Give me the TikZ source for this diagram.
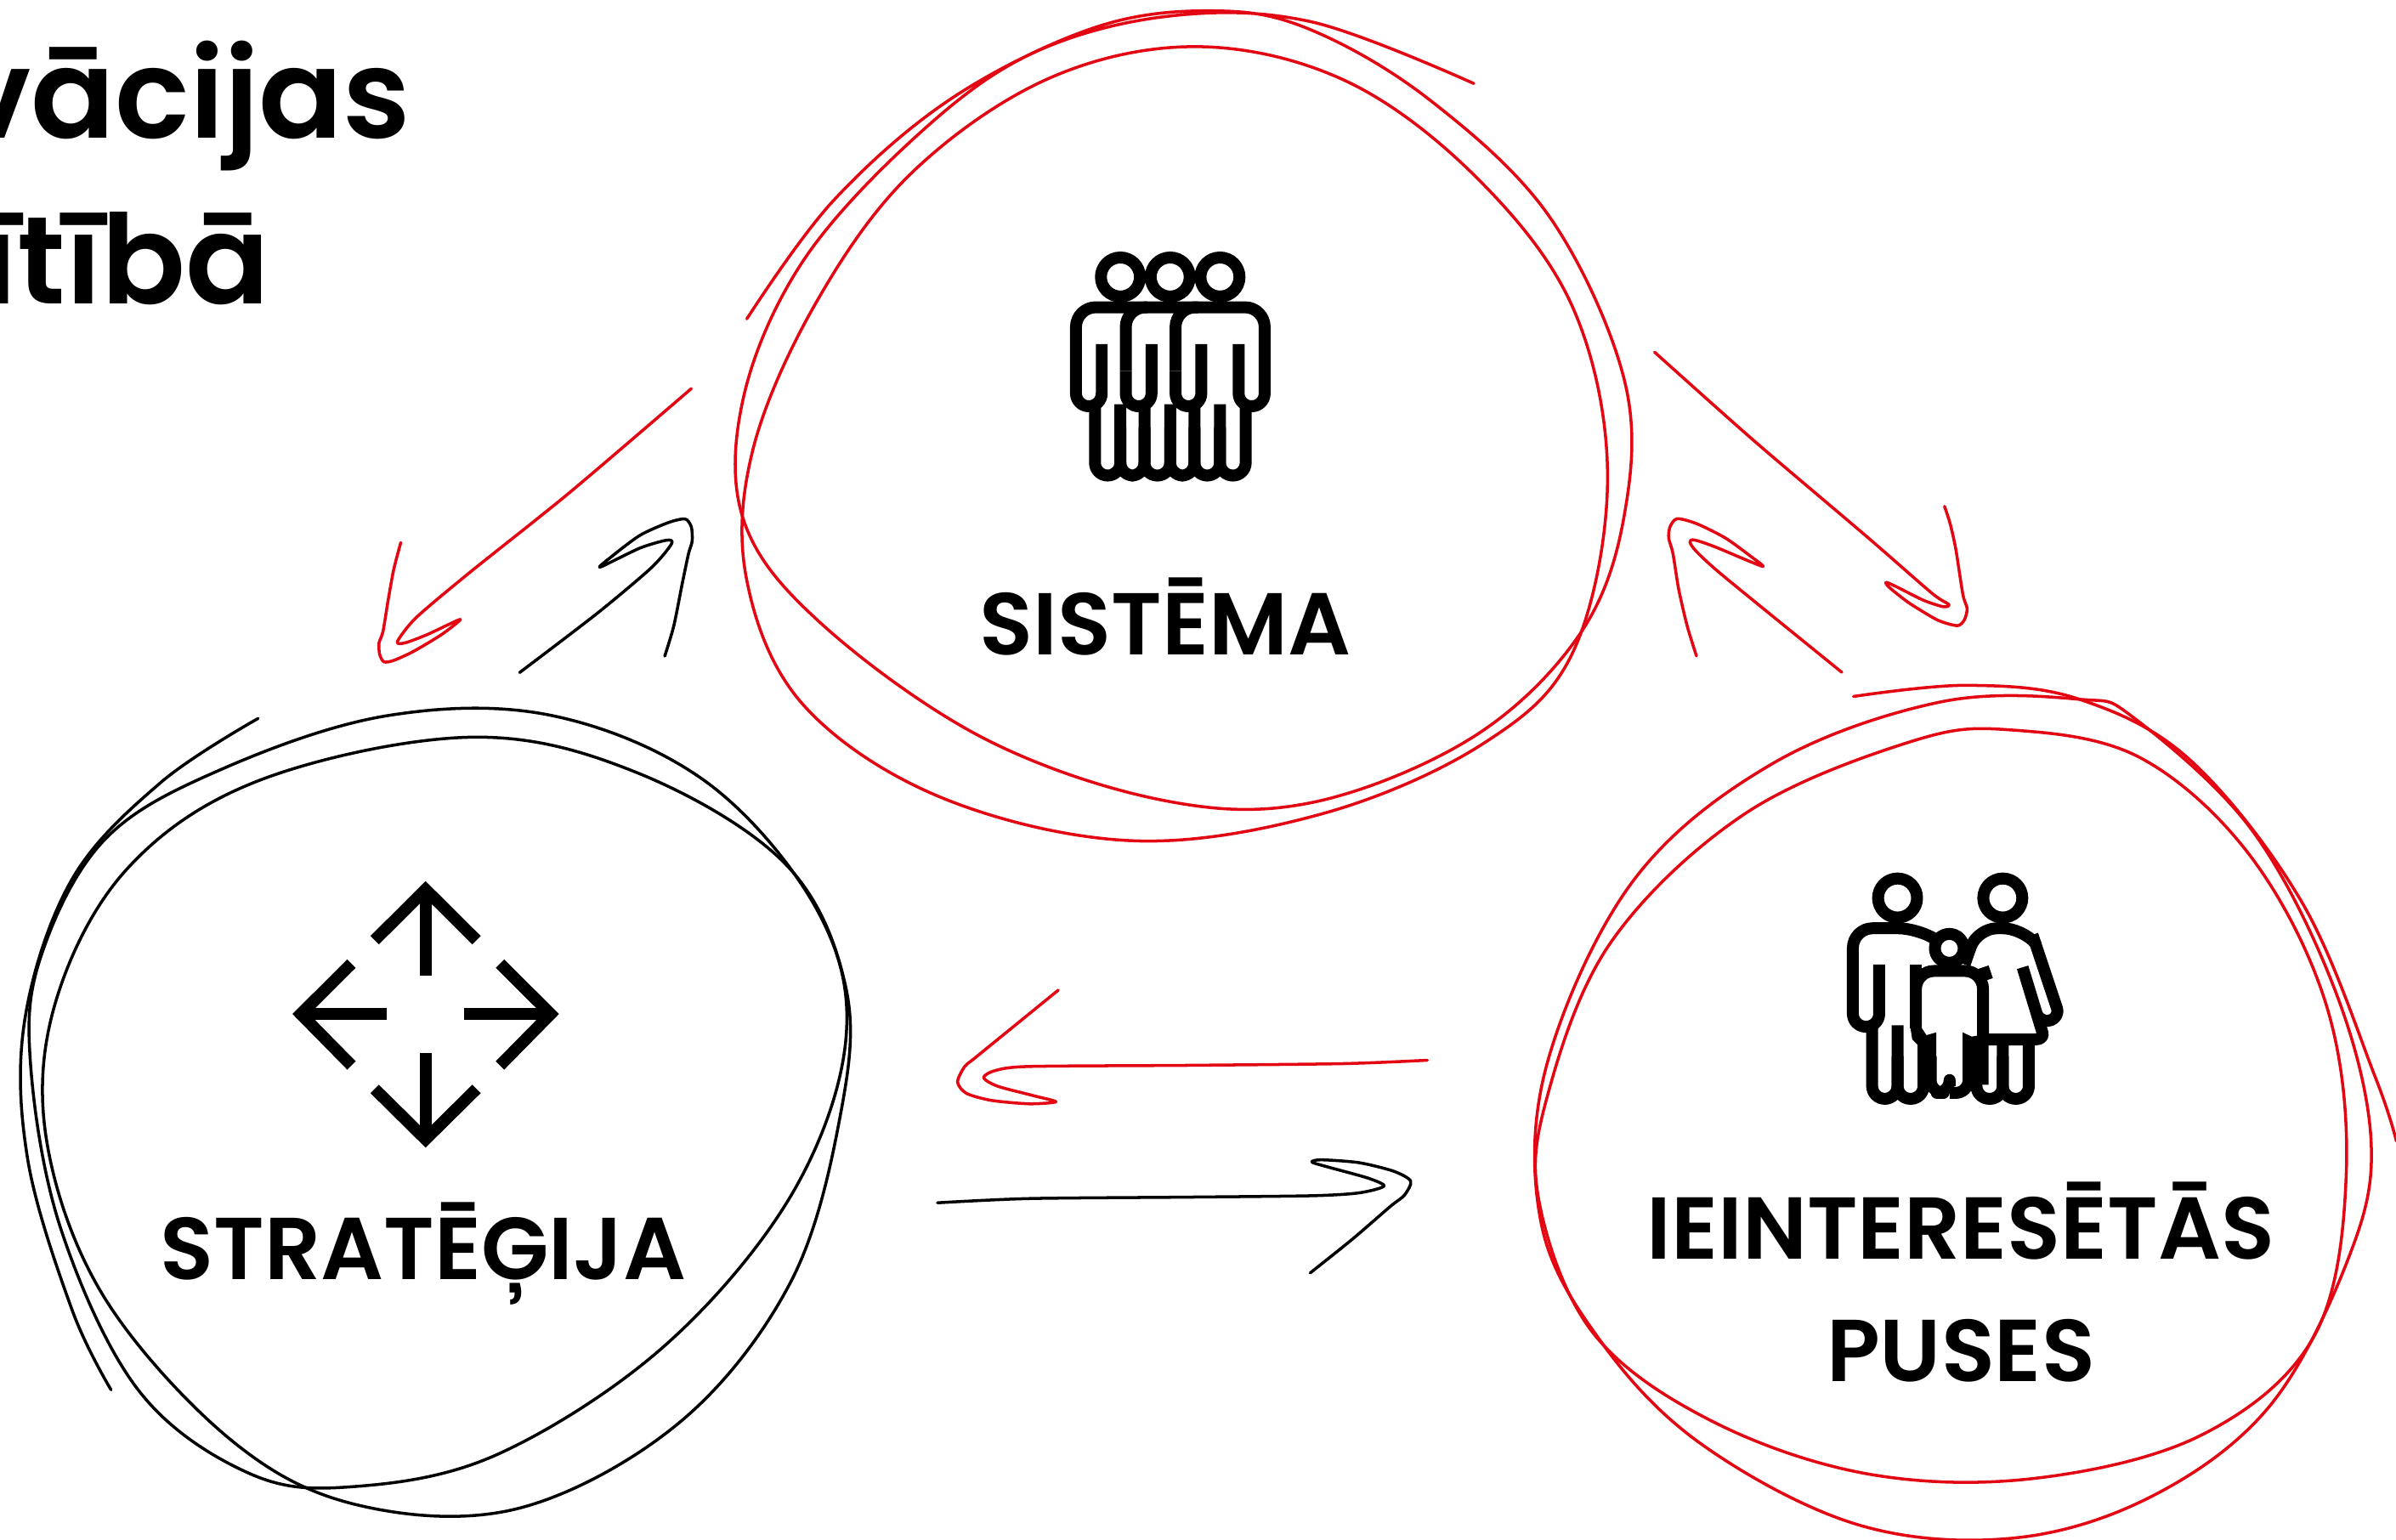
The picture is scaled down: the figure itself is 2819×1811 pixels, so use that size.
\documentclass[tikz,border=0pt]{standalone}
\usepackage{fontspec}
\setmainfont{Poppins}[UprightFont=* SemiBold]
\definecolor{sred}{HTML}{E30613}
\tikzset{
  redstroke/.style={draw=sred,line width=1pt,line cap=round,line join=round},
  blackstroke/.style={draw=black,line width=1pt,line cap=round,line join=round},
  icon/.style={draw=black,line width=3.98pt,line cap=butt,line join=round},
  labeltext/.style={anchor=base,inner sep=0pt,font=\fontsize{29.4pt}{29.4pt}\selectfont},
  titletext/.style={anchor=base east,inner sep=0pt,font=\fontsize{41.5pt}{41.5pt}\selectfont},
  zoomA/.style={shift={(840,0)},x=0.007015cm,y=-0.006378cm},
  zoomB/.style={shift={(0,820)},x=0.006506cm,y=-0.006321cm},
  zoomC/.style={shift={(1790,780)},x=0.006562cm,y=-0.006575cm},
  zoomD/.style={x=0.003333cm,y=-0.003333cm},
  zoomF/.style={shift={(1100,1130)},x=0.0037cm,y=-0.003333cm}
}
\begin{document}
\begin{tikzpicture}[x=0.01cm,y=-0.01cm]
\useasboundingbox (0,0) rectangle (2819,1811);
\fill[white] (0,0) rectangle (2819,1811);

% title
\node[titletext] (t1) at (484,162) {vācijas};
\node[titletext] (t2) at (318,357) {ītībā};

% labels
\node[labeltext] (sis) at (1371,770) {SISTĒMA};
\node[labeltext] (str) at (498,1505) {STRATĒĢIJA};
\node[labeltext] (iei) at (2307,1481) {IEINTERESĒTĀS};
\node[labeltext] (pus) at (2307,1625) {PUSES};

% SISTEMA circle
\begin{scope}[zoomA]
\draw[redstroke] plot[smooth,tension=.6] coordinates {(55,588)(200,370)(400,180)(640,50)(840,20)(1000,55)(1200,185)(1400,400)(1525,700)(1525,950)(1450,1170)(1270,1360)(1000,1480)(750,1475)(450,1360)(180,1150)(50,960)(50,730)(150,480)(340,250)(530,100)(760,30)(1000,40)(1273,154)};
\draw[redstroke] plot[smooth cycle,tension=.6] coordinates {(1497,880)(1440,570)(1280,330)(1060,150)(810,86)(560,145)(330,320)(170,560)(65,830)(55,1070)(150,1300)(380,1470)(700,1550)(1020,1500)(1290,1370)(1440,1200)};
\end{scope}

% STRATEGIJA circle
\begin{scope}[zoomB]
\draw[blackstroke] plot[smooth,tension=.6] coordinates {(467,40)(290,160)(130,340)(45,600)(50,860)(130,1140)(201,1290)};
\draw[blackstroke] plot[smooth cycle,tension=.6] coordinates {(190,265)(75,480)(55,680)(110,990)(250,1290)(450,1445)(640,1470)(900,1410)(1200,1210)(1430,930)(1530,640)(1480,400)(1280,160)(1000,35)(700,35)(400,135)};
\draw[blackstroke] plot[smooth cycle,tension=.6] coordinates {(850,75)(1150,140)(1420,310)(1530,540)(1520,780)(1430,1090)(1230,1350)(940,1510)(650,1505)(420,1385)(190,1120)(85,830)(100,570)(230,320)(470,155)};
\end{scope}

% IEINTERESETAS circle
\begin{scope}[zoomC]
\draw[redstroke] plot[smooth,tension=.6] coordinates {(595,60)(800,40)(1000,65)(1200,175)(1400,430)(1530,740)(1568,855)};
\draw[redstroke] plot[smooth cycle,tension=.6] coordinates {(1000,65)(750,70)(450,180)(200,390)(45,720)(35,1000)(140,1210)(320,1395)(600,1540)(880,1565)(1130,1490)(1340,1330)(1480,1070)(1523,860)(1460,590)(1310,300)(1100,100)};
\draw[redstroke] plot[smooth cycle,tension=.6] coordinates {(880,120)(1110,170)(1310,350)(1445,620)(1478,920)(1420,1205)(1220,1380)(920,1458)(620,1450)(340,1355)(130,1200)(33,970)(45,780)(160,500)(400,270)(700,140)};
\end{scope}

% arrows left pair
\begin{scope}[shift={(420,580)},zoomD]
\draw[redstroke] plot[smooth,tension=.45] coordinates {(1182,-369)(750,0)(400,280)(210,440)(143,525)(170,530)(250,500)(365,447)(300,500)(200,560)(130,592)(95,597)(80,570)(78,530)(92,490)(110,380)(130,270)(155,175)};
\draw[blackstroke] plot[smooth,tension=.45] coordinates {(575,635)(850,425)(1040,265)(1112,180)(1095,167)(1000,195)(860,262)(900,225)(1000,150)(1100,105)(1160,92)(1182,120)(1185,170)(1172,215)(1150,320)(1120,470)(1088,577)};
\end{scope}

% arrows right pair
\begin{scope}[shift={(1930,390)},zoomD]
\draw[redstroke] plot[smooth,tension=.45] coordinates {(50,73)(400,385)(800,725)(1030,925)(1090,965)(1070,973)(1000,950)(900,900)(868,887)(880,905)(950,960)(1050,1020)(1120,1040)(1145,1020)(1155,980)(1140,930)(1115,770)(1095,680)(1075,618)};
\draw[redstroke] plot[smooth,tension=.45] coordinates {(712,1205)(300,870)(200,780)(175,745)(190,737)(260,760)(430,830)(390,795)(300,730)(200,680)(130,662)(105,690)(100,730)(115,785)(135,910)(165,1040)(198,1147)};
\end{scope}

% arrows bottom pair
\begin{scope}[zoomF]
\draw[redstroke] plot[smooth,tension=.45] coordinates {(393,105)(135,338)(95,375)(72,430)(100,470)(180,495)(300,507)(385,500)(320,480)(200,445)(155,415)(190,390)(300,375)(800,371)(1300,365)(1568,353)};
\draw[blackstroke] plot[smooth,tension=.45] coordinates {(8,857)(300,842)(800,837)(1200,832)(1350,822)(1430,798)(1380,770)(1250,730)(1200,713)(1230,705)(1350,715)(1460,745)(1515,780)(1495,830)(1450,870)(1330,985)(1195,1105)};
\end{scope}

% people icon
\begin{scope}[shift={(1230,270)},zoomD]
\draw[icon] (265,168) circle[radius=69] (441,168) circle[radius=69] (617,168) circle[radius=69];
\draw[icon,rounded corners=4.3pt] (199,405)--(199,625)--(108,625)--(108,500)
  [rounded corners=6.6pt] --(108,275)--(775,275)--(775,500)
  [rounded corners=4.3pt] --(775,625)--(683,625)--(683,405);
\draw[icon,rounded corners=6.6pt] (284,500)--(284,275)--(360,275);
\draw[icon,rounded corners=4.3pt] (375,405)--(375,625)--(284,625)--(284,500);
\draw[icon,rounded corners=6.6pt] (460,500)--(460,275)--(540,275);
\draw[icon,rounded corners=4.3pt] (551,405)--(551,625)--(460,625)--(460,500);
\begin{scope}[rounded corners=4.3pt]
\draw[icon] (175,615)--(175,870)--(265,870)--(265,618);
\draw[icon] (265,700)--(265,870)--(350,870)--(350,625);
\draw[icon] (350,700)--(350,870)--(441,870)--(441,618);
\draw[icon] (441,700)--(441,870)--(527,870)--(527,625);
\draw[icon] (527,700)--(527,870)--(617,870)--(617,618);
\draw[icon] (617,700)--(617,870)--(708,870)--(708,615);
\end{scope}
\end{scope}

% family icon
\begin{scope}[shift={(2150,1010)},zoomD]
\draw[icon] (248,140) circle[radius=69] (620,140) circle[radius=69] (431,318) circle[radius=51];
% man
\draw[icon,rounded corners=4.3pt] (183,375)--(183,595)--(90,595)--(90,450)
  [rounded corners=6.6pt] --(90,247)--(320,247)--(380,285);
\draw[icon] (313,375)--(313,600);
\begin{scope}[rounded corners=4.3pt]
\draw[icon] (158,595)--(158,850)--(248,850)--(248,590);
\draw[icon] (248,700)--(248,850)--(340,850)--(340,655);
\draw[icon] (365,700)--(365,829)--(432,829)--(432,805);
\draw[icon] (432,829)--(499,829)--(499,700);
\draw[icon] (527,655)--(527,850)--(620,850)--(620,640);
\draw[icon] (620,700)--(620,850)--(712,850)--(712,655);
\end{scope}
% child
\draw[icon,rounded corners=6pt] (313,600)--(313,398)--(550,398)--(550,640);
\fill[black] (292,590)--(334,600)--(350,625)--(385,615)--(385,820)--(330,820)--(330,670)--(300,640)--cycle;
\fill[black] (478,615)--(510,630)--(570,620)--(570,800)--(478,800)--cycle;
% woman
\draw[icon,rounded corners=6.6pt] (485,375)--(530,247)--(690,247)--(735,300);
\draw[icon] (725,270)--(811,528) .. controls (825,570) and (765,595) .. (741,552);
\draw[icon] (690,385)--(760,615) .. controls (765,630) and (755,640) .. (735,640) -- (550,640);
\draw[icon] (550,385)--(565,430);
\end{scope}

% strategy icon
\begin{scope}[shift={(320,1020)},zoomD]
\draw[icon,line join=miter] (363,259)--(543,80)--(723,259);
\draw[icon] (543,90)--(543,385);
\draw[icon,line join=miter] (281,342)--(102,520)--(281,702);
\draw[icon] (110,520)--(407,520);
\draw[icon,line join=miter] (806,342)--(985,520)--(806,702);
\draw[icon] (680,520)--(975,520);
\draw[icon,line join=miter] (363,785)--(543,963)--(723,785);
\draw[icon] (543,658)--(543,950);
\end{scope}
\end{tikzpicture}
\end{document}
